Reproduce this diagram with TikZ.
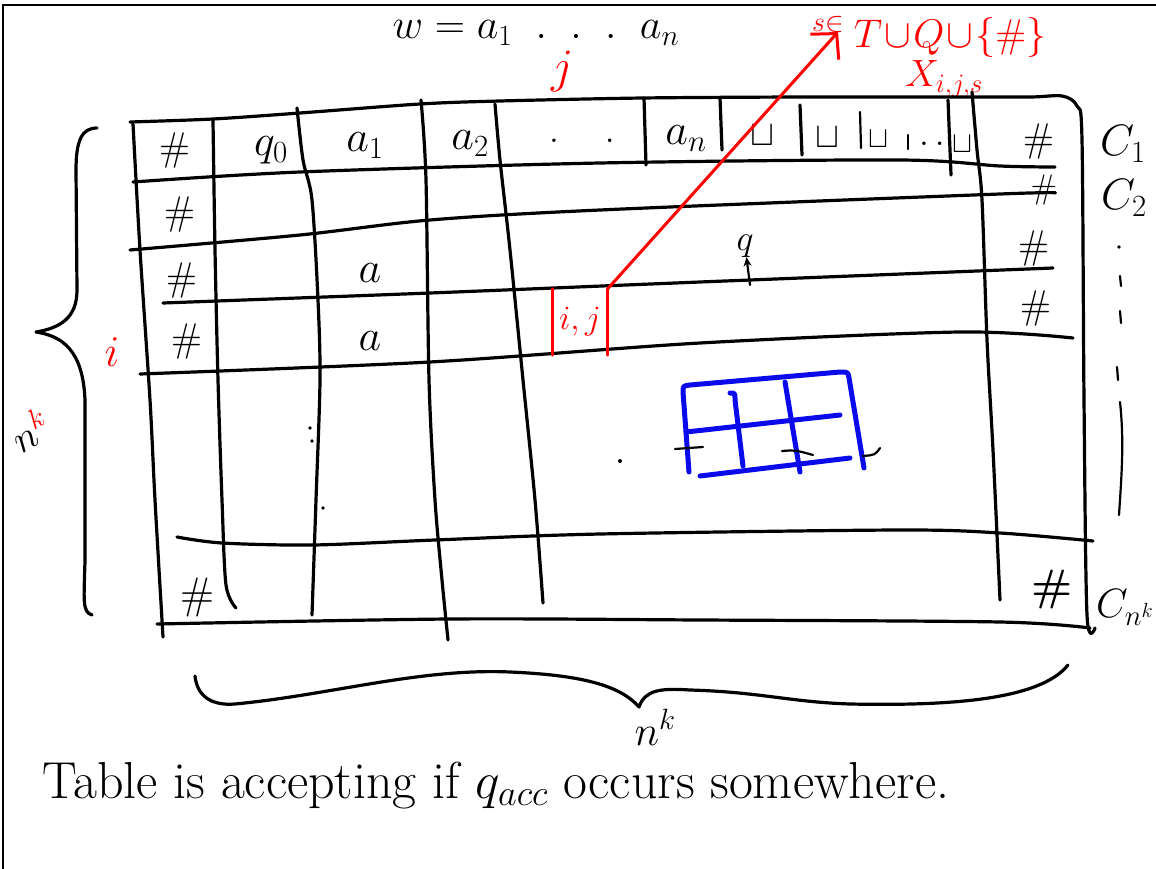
\RequirePackage{fix-cm}
\documentclass[tikz,border=0pt]{standalone}
\usetikzlibrary{arrows.meta}
\begin{document}
\begin{tikzpicture}[x=1pt,y=-1pt,
  ink/.style={line width=3.2pt,line cap=round,line join=round},
  fine/.style={line width=2.2pt,line cap=round,line join=round},
  redink/.style={draw=red,line width=3pt,line cap=round,line join=round},
  blueink/.style={draw={rgb,255:red,10;green,10;blue,235},line width=5pt,line cap=round,line join=round},
  txt/.style={inner sep=0pt,anchor=base,font=\fontsize{#1}{#1}\selectfont},
]
\useasboundingbox (0,0) rectangle (1156,869);
% frame
\draw[line width=1.2pt] (3,869) -- (3,5) -- (1156,5);

% header
\node[txt=42] (word) at (536,39) {$w = a_1\;\;.\;\;.\;\;.\;\;a_n$};
\node[txt=48,text=red] (jlab) at (563,83) {$j$};
\node[txt=40,text=red,anchor=base west] (set) at (812,48) {\raisebox{16pt}{$\scriptstyle s\in$}\hspace{10pt}$T\mathbin{\!\cup\!}Q\mathbin{\!\cup\!}\{\#\}$};
\node[txt=38,text=red] (xijs) at (944,87) {$X_{i,j,s}$};

% table outline: top and right border
\draw[ink] plot[smooth,tension=.5] coordinates {(130,122) (213,119) (300,113) (420,104) (500,101) (643,98) (800,97) (950,97) (1030,97) (1062,96) (1077,106) (1082,140) (1084,400) (1087,615) (1095,628)};
% rows
\draw[ink] plot[smooth,tension=.5] coordinates {(133,182) (300,172) (600,163) (900,160) (1000,166) (1055,167)};
\draw[ink] plot[smooth,tension=.5] coordinates {(130,250) (300,235) (430,220) (600,210) (1000,194) (1055,193)};
\draw[ink] plot[smooth,tension=.5] coordinates {(163,303) (430,293) (700,282) (1053,268)};
\draw[ink] plot[smooth,tension=.5] coordinates {(140,374) (430,362) (700,343) (960,332) (1073,338)};
\draw[ink] plot[smooth,tension=.5] coordinates {(177,537) (222,543) (313,545) (435,540) (600,534) (900,530) (1000,533) (1093,541)};
\draw[ink] plot[smooth,tension=.5] coordinates {(157,624) (450,619) (700,620) (1000,622) (1090,628)};
% columns
\draw[ink] plot[smooth,tension=.5] coordinates {(133,124) (140,250) (150,400) (155,500) (163,637)};
\draw[ink] plot[smooth,tension=.5] coordinates {(213,120) (215,250) (218,380) (222,500) (226,585) (236,608)};
\draw[ink] plot[smooth,tension=.5] coordinates {(297,108) (303,160) (312,200) (318,300) (320,380) (316,500) (312,615)};
\draw[ink] plot[smooth,tension=.5] coordinates {(421,100) (426,180) (429,380) (435,500) (442,580) (448,640)};
\draw[ink] plot[smooth,tension=.5] coordinates {(495,104) (500,160) (510,250) (523,380) (535,500) (543,603)};
\draw[ink] (644,98) -- (646,165);
\draw[ink] (720,98) -- (722,150);
\draw[ink] (800,105) -- (802,155);
\draw[ink] (948,100) -- (951,175);
\draw[ink] plot[smooth,tension=.5] coordinates {(972,92) (977,150) (982,200) (987,340) (993,450) (1000,600)};
\draw[fine] (860,112) -- (861,148);
\draw[fine] (908,135) -- (908,149);

% row 1
\node[txt=40] (h1l) at (175,161) {\#};
\node[txt=44] (q0) at (271,156) {$q_0$};
\node[txt=44] (a1) at (365,152) {$a_1$};
\node[txt=44] (a2) at (470,150) {$a_2$};
\node[txt=36] (dots1) at (582,143) {$.\hspace{46pt}.$};
\node[txt=44] (an) at (686,145) {$a_n$};
\node[txt=36] (b1) at (762,146) {$\sqcup$};
\node[txt=36] (b2) at (827,148) {$\sqcup$};
\node[txt=30] (b3) at (878,148) {$\sqcup$};
\node[txt=36] (dots2) at (932,146) {$.\,.$};
\node[txt=30] (b4) at (962,153) {$\sqcup$};
\node[txt=40] (h1r) at (1039,152) {\#};
% row 2
\node[txt=40] (h2l) at (180,225) {\#};
\node[txt=34] (h2r) at (1044,199) {\#};
% row 3
\node[txt=40] (h3l) at (182,290) {\#};
\node[txt=44] (a3) at (370,282) {$a$};
\node[txt=36] (q) at (745,250) {$q$};
\coordinate (head) at (750,285);
\draw[fine,-{Stealth[length=9pt,width=8pt]}] (head) -- (q);
\node[txt=40] (h3r) at (1034,258) {\#};
% row 4
\node[txt=40] (h4l) at (187,351) {\#};
\node[txt=44] (a4) at (370,350) {$a$};
\node[inner sep=0pt,minimum width=55pt,minimum height=66pt,text=red,font=\fontsize{34}{34}\selectfont] (ij) at (580,322) {$i,j$};
\draw[redink] (ij.north west) -- (ij.south west);
\draw[redink] (ij.north east) -- (ij.south east);
\node[txt=40] (h4r) at (1036,318) {\#};
% last row
\node[txt=44] (h5l) at (197,608) {\#};
\node[txt=44,font=\fontsize{44}{44}\selectfont\bfseries] (h5r) at (1052,600) {\#};

% red arrow
\coordinate (tip) at (838,32);
\draw[redink,-{Straight Barb[length=18pt,width=38pt]}] (ij.north east) -- (tip);

% red i
\node[txt=44,text=red] (ilab) at (112,366) {$i$};

% middle dots
\fill (310,428) circle (1.8);
\fill (312,441) circle (1.8);
\fill (323,508) circle (1.8);
\fill (620,461) circle (2);

% blue grid
\draw[blueink] (689,472) -- (683,392) .. controls (683,386) .. (690,385) -- (840,372) .. controls (848,372) .. (849,378) -- (864,468);
\draw[blueink] (700,476) -- (850,458);
\draw[blueink] (686,432) -- (840,415);
\draw[blueink] (730,393) .. controls (735,393) .. (735,400) -- (743,466);
\draw[blueink] (785,382) -- (800,472);
\draw[fine] (675,449) -- (703,447);
\draw[fine] (782,451) .. controls (795,450) .. (813,455);
\draw[fine] (863,456) .. controls (875,455) .. (880,448);

% right labels
\node[txt=44,anchor=base west] (c1) at (1100,156) {$C_1$};
\node[txt=44,anchor=base west] (c2) at (1101,210) {$C_2$};
\node[txt=41,anchor=base west] (cn) at (1096,617) {$C_{n^k}$};
\fill (1119,247) circle (1.8);
\draw[fine] (1120,276) -- (1121,286);
\draw[fine] (1120,311) -- (1121,323);
\draw[fine] (1117,367) -- (1118,380);
\draw[fine] (1120,402) .. controls (1124,440) and (1122,470) .. (1119,515);

% left brace
\draw[ink] (97,128) .. controls (82,128) and (76,140) .. (76,170) -- (77,290) .. controls (77,318) and (60,328) .. (36,332) .. controls (62,336) and (83,350) .. (85,400) -- (85,560) .. controls (84,600) and (82,612) .. (92,615);
\node[txt=40,rotate=30] (nk1) at (38,445) {$n^{\color{red}k}$};

% bottom brace
\draw[ink] (195,676) .. controls (197,695) and (210,706) .. (235,704) .. controls (330,695) and (420,668) .. (510,672) .. controls (580,675) and (620,685) .. (639,707) .. controls (645,690) and (660,688) .. (690,690) .. controls (760,692) and (790,702) .. (850,704) .. controls (950,706) and (1040,700) .. (1068,665);
\node[txt=42] (nk2) at (655,745) {$n^k$};

% caption
\node[txt=52] (caption) at (496,798) {Table is accepting if $q_{acc}$ occurs somewhere.};
\end{tikzpicture}
\end{document}
